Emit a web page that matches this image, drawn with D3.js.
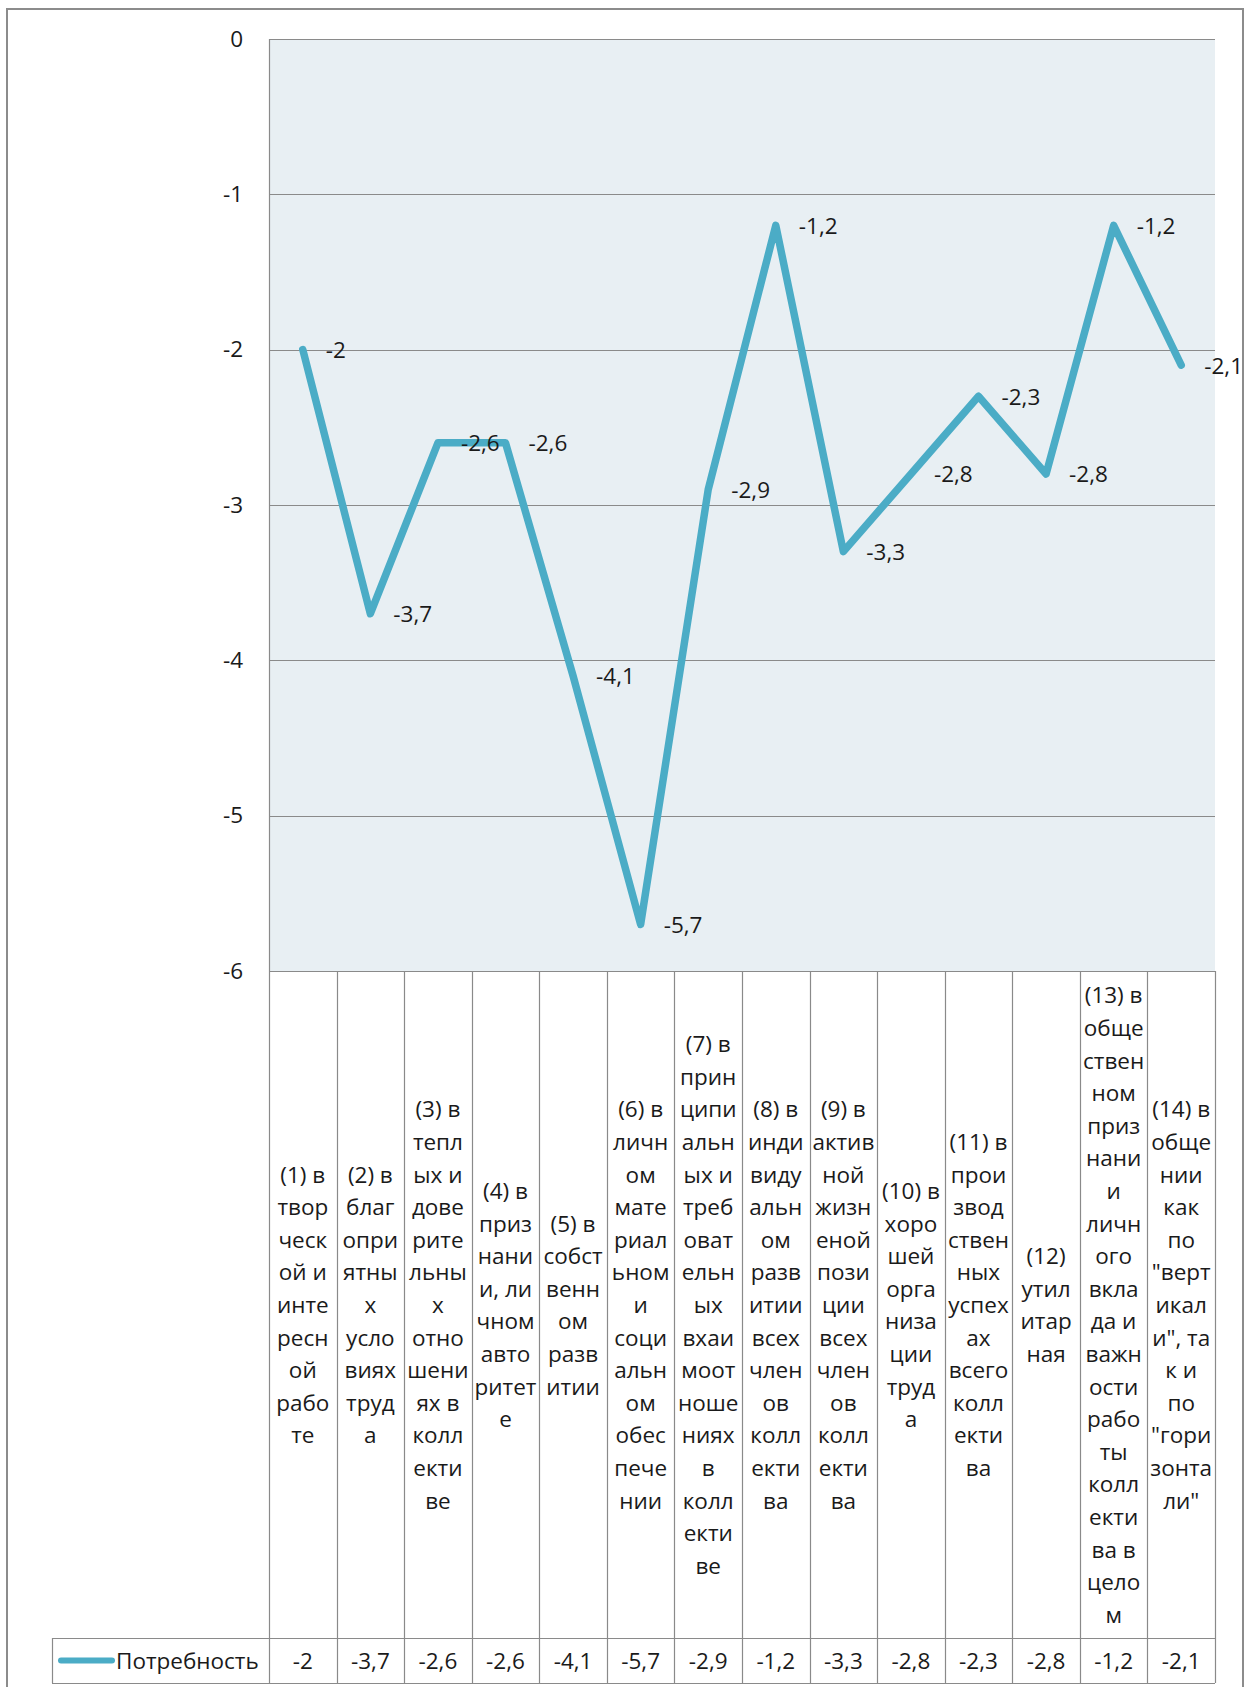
<!DOCTYPE html>
<html>
<head>
<meta charset="utf-8">
<script src="https://cdn.jsdelivr.net/npm/d3@7"></script>
<style>
  html, body { margin: 0; padding: 0; background: #fff; }
  svg { display: block; }
  text { font-family: "Open Sans", "Noto Sans", sans-serif; fill: #1a1a1a; }
</style>
</head>
<body>
<svg id="chart" width="1252" height="1687"></svg>
<script>
// Category labels, already broken into the narrow lines that fit each column
const categories = [
  ["(1) в", "твор", "ческ", "ой и", "инте", "ресн", "ой", "рабо", "те"],
  ["(2) в", "благ", "опри", "ятны", "х", "усло", "виях", "труд", "а"],
  ["(3) в", "тепл", "ых и", "дове", "рите", "льны", "х", "отно", "шени", "ях в", "колл", "екти", "ве"],
  ["(4) в", "приз", "нани", "и, ли", "чном", "авто", "ритет", "е"],
  ["(5) в", "собст", "венн", "ом", "разв", "итии"],
  ["(6) в", "личн", "ом", "мате", "риал", "ьном", "и", "соци", "альн", "ом", "обес", "пече", "нии"],
  ["(7) в", "прин", "ципи", "альн", "ых и", "треб", "оват", "ельн", "ых", "вхаи", "моот", "ноше", "ниях", "в", "колл", "екти", "ве"],
  ["(8) в", "инди", "виду", "альн", "ом", "разв", "итии", "всех", "член", "ов", "колл", "екти", "ва"],
  ["(9) в", "актив", "ной", "жизн", "еной", "пози", "ции", "всех", "член", "ов", "колл", "екти", "ва"],
  ["(10) в", "хоро", "шей", "орга", "низа", "ции", "труд", "а"],
  ["(11) в", "прои", "звод", "ствен", "ных", "успех", "ах", "всего", "колл", "екти", "ва"],
  ["(12)", "утил", "итар", "ная"],
  ["(13) в", "обще", "ствен", "ном", "приз", "нани", "и", "личн", "ого", "вкла", "да и", "важн", "ости", "рабо", "ты", "колл", "екти", "ва в", "цело", "м"],
  ["(14) в", "обще", "нии", "как", "по", "\"верт", "икал", "и\", та", "к и", "по", "\"гори", "зонта", "ли\""]
];

const seriesName = "Потребность";
const values = [-2, -3.7, -2.6, -2.6, -4.1, -5.7, -2.9, -1.2, -3.3, -2.8, -2.3, -2.8, -1.2, -2.1];
const yTicks = [0, -1, -2, -3, -4, -5, -6];

// Layout
const plotLeft = 269, plotRight = 1215, plotTop = 39, plotBottom = 971;
const legendTop = 1638, legendBottom = 1683, legendLeft = 52;
const lineHeight = 32.6;
const fontSize = 22.5;
const gridColor = "#8a8a8a";
const lineColor = "#4bacc6";

const svg = d3.select("#chart");
const fmt = v => String(v).replace(".", ",");

const x = d3.scaleBand().domain(d3.range(categories.length)).range([plotLeft, plotRight]).padding(0);
const y = d3.scaleLinear().domain([0, -6]).range([plotTop, plotBottom]);
const cx = i => x(i) + x.bandwidth() / 2;

// Outer frame
svg.append("rect")
  .attr("x", 7).attr("y", 9).attr("width", 1236).attr("height", 1690)
  .attr("fill", "none").attr("stroke", "#8c8c8c").attr("stroke-width", 2);

// Plot background
svg.append("rect")
  .attr("x", plotLeft).attr("y", plotTop)
  .attr("width", plotRight - plotLeft).attr("height", plotBottom - plotTop)
  .attr("fill", "#e8eff3");

// Horizontal gridlines
svg.append("g").selectAll("line").data(yTicks).join("line")
  .attr("x1", plotLeft).attr("x2", plotRight)
  .attr("y1", d => Math.round(y(d)) + 0.5).attr("y2", d => Math.round(y(d)) + 0.5)
  .attr("stroke", gridColor).attr("stroke-width", 1.2);

// Vertical axis line
svg.append("line")
  .attr("x1", plotLeft + 0.5).attr("x2", plotLeft + 0.5)
  .attr("y1", plotTop).attr("y2", plotBottom)
  .attr("stroke", gridColor).attr("stroke-width", 1.2);

// Y axis tick labels
const yAxis = svg.append("g")
  .attr("transform", `translate(${plotLeft},0)`)
  .call(d3.axisLeft(y).tickValues(yTicks).tickSize(0).tickPadding(26).tickFormat(d => String(d)));
yAxis.select(".domain").remove();
yAxis.selectAll("text")
  .attr("font-size", fontSize)
  .attr("font-family", "\"Open Sans\", \"Noto Sans\", sans-serif")
  .attr("fill", "#1a1a1a");

// Data table: column separators
const bounds = d3.range(categories.length).map(i => x(i)).concat([plotRight]);
svg.append("g").selectAll("line").data(bounds).join("line")
  .attr("x1", d => Math.round(d) + 0.5).attr("x2", d => Math.round(d) + 0.5)
  .attr("y1", plotBottom).attr("y2", legendBottom)
  .attr("stroke", gridColor).attr("stroke-width", 1.2);

// Data table: legend row borders
[legendTop, legendBottom].forEach(yy => {
  svg.append("line")
    .attr("x1", legendLeft).attr("x2", plotRight)
    .attr("y1", yy + 0.5).attr("y2", yy + 0.5)
    .attr("stroke", gridColor).attr("stroke-width", 1.2);
});
svg.append("line")
  .attr("x1", legendLeft + 0.5).attr("x2", legendLeft + 0.5)
  .attr("y1", legendTop).attr("y2", legendBottom)
  .attr("stroke", gridColor).attr("stroke-width", 1.2);

// Category labels, centered in their column and band
const bandMid = (plotBottom + legendTop) / 2;
const catG = svg.append("g").selectAll("text").data(categories).join("text")
  .attr("text-anchor", "middle")
  .attr("font-size", fontSize);
catG.each(function (lines, i) {
  const t = d3.select(this);
  const first = bandMid - (lines.length - 1) / 2 * lineHeight;
  lines.forEach((ln, k) => {
    t.append("tspan")
      .attr("x", cx(i))
      .attr("y", first + k * lineHeight)
      .attr("dominant-baseline", "central")
      .text(ln);
  });
});

// Legend key and series name
const legendMid = (legendTop + legendBottom) / 2;
svg.append("line")
  .attr("x1", 61).attr("x2", 112)
  .attr("y1", legendMid).attr("y2", legendMid)
  .attr("stroke", lineColor).attr("stroke-width", 6).attr("stroke-linecap", "round");
svg.append("text")
  .attr("x", 116).attr("y", legendMid)
  .attr("dominant-baseline", "central")
  .attr("font-size", fontSize)
  .text(seriesName);

// Values in the table row
svg.append("g").selectAll("text").data(values).join("text")
  .attr("x", (d, i) => cx(i)).attr("y", legendMid)
  .attr("text-anchor", "middle").attr("dominant-baseline", "central")
  .attr("font-size", fontSize)
  .text(fmt);

// Series line
const line = d3.line().x((d, i) => cx(i)).y(d => y(d));
svg.append("path")
  .datum(values)
  .attr("d", line)
  .attr("fill", "none")
  .attr("stroke", lineColor)
  .attr("stroke-width", 7.5)
  .attr("stroke-linecap", "round")
  .attr("stroke-linejoin", "round");

// Data labels to the right of each point
svg.append("g").selectAll("text").data(values).join("text")
  .attr("x", (d, i) => cx(i) + 23).attr("y", d => y(d))
  .attr("dominant-baseline", "central")
  .attr("font-size", fontSize)
  .text(fmt);
</script>
</body>
</html>
